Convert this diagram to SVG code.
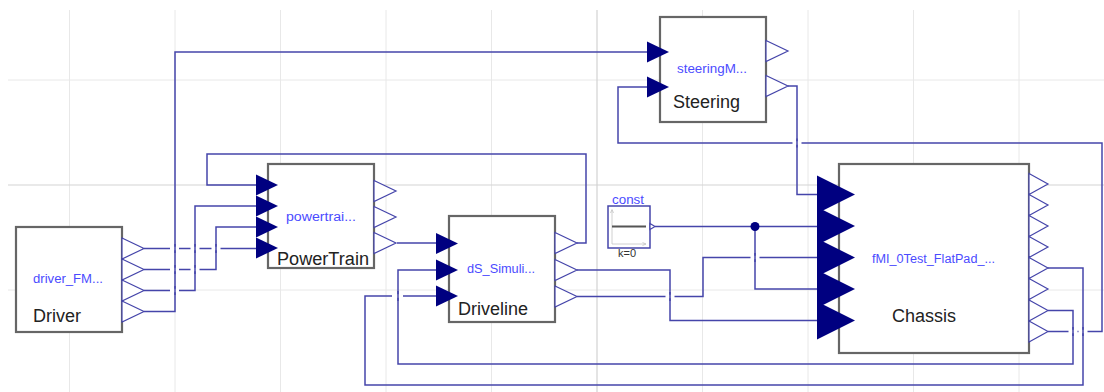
<svg xmlns="http://www.w3.org/2000/svg" xmlns:xlink="http://www.w3.org/1999/xlink" width="1104" height="392" viewBox="0 0 1104 392">
<style>
.grid{stroke:#e8e8e8;stroke-width:1;fill:none}
.axis{stroke:#d3d3d3;stroke-width:1.2;fill:none}
.box{fill:#fff;stroke:#666;stroke-width:2.2}
.conn{fill:none;stroke:#4545aa;stroke-width:1.5}
.gap{fill:none;stroke:#fff;stroke-width:3.5}
.in{fill:#000080}
.out{fill:#fff;stroke:#4545aa;stroke-width:1.2}
.name{font-family:"Liberation Sans",Arial,sans-serif;font-size:12.5px;fill:#4b4bff}
.label{font-family:"Liberation Sans",Arial,sans-serif;font-size:18px;fill:#222}
</style>
<defs>
<polygon id="tin" class="in" points="0,-10.5 22,0 0,10.5"/>
<polygon id="tout" class="out" points="0,-10.5 22,0 0,10.5"/>
<polygon id="cin" class="in" points="0,-19 38,0 0,19"/>
<polygon id="cout" class="out" points="0,-10.5 19,0 0,10.5"/>
</defs>
<rect width="1104" height="392" fill="#fff"/>
<g id="grid">
<path class="grid" d="M69.5,10V392M175,10V392M280.5,10V392M386,10V392M491.5,10V392M702.5,10V392M808,10V392M913.5,10V392M1019,10V392M8,80H1104M8,290H1104"/>
<path class="axis" d="M597,10V392M8,185H1104"/>
</g>
<g id="connectors">
<path class="conn" d="M144,248.5H256"/>
<path class="conn" d="M144,269.5H216V227H256"/>
<path class="conn" d="M144,290.5H195V206H256"/>
<path class="conn" d="M144,311.5H175V52H647"/>
<path class="conn" d="M577,243H586V154H207V185H256"/>
<path class="conn" d="M397,243H436"/>
<path class="conn" d="M577,270H670V320.5H817"/>
<path class="conn" d="M577,296.5H703V257.5H817"/>
<path class="conn" d="M655,226.5H817"/>
<path class="conn" d="M755,226.5V289H817"/>
<path class="conn" d="M788,86H797V194.5H817"/>
<path class="conn" d="M1048,331.5H1102V143H618V87H647"/>
<path class="conn" d="M1048,310.5H1073V364H398V270H436"/>
<path class="conn" d="M1048,268H1083V385H365V296H436"/>
<path class="gap" d="M170,248.5h9M190.5,248.5h9M211.5,248.5h9M170,269.5h9M190.5,269.5h9M170,290.5h9M392,296h11M665.5,296.5h9M750.5,257.5h9M792.5,143h9M1068.5,331.5h9M1078.5,331.5h9"/>
<path class="conn" d="M175,244v9M195,244v9M216,244v9M175,265v9M195,265v9M175,286v9M398,291v10M670,292v9M755,253v9M797,138.5v9M1073,327v9M1083,327v9"/>
<circle cx="755" cy="226.5" r="4.5" fill="#000080"/>
</g>
<g id="driver">
<rect class="box" x="16" y="227" width="106" height="105"/>
<use xlink:href="#tout" x="122" y="248.5"/>
<use xlink:href="#tout" x="122" y="269.5"/>
<use xlink:href="#tout" x="122" y="290.5"/>
<use xlink:href="#tout" x="122" y="311.5"/>
<text class="name" x="33" y="283" textLength="70" lengthAdjust="spacingAndGlyphs">driver_FM...</text>
<text class="label" x="33" y="322">Driver</text>
</g>
<g id="powertrain">
<rect class="box" x="268" y="164" width="106" height="104"/>
<use xlink:href="#tin" x="256" y="185"/>
<use xlink:href="#tin" x="256" y="206"/>
<use xlink:href="#tin" x="256" y="227"/>
<use xlink:href="#tin" x="256" y="248"/>
<use xlink:href="#tout" x="374" y="191"/>
<use xlink:href="#tout" x="374" y="217"/>
<use xlink:href="#tout" x="374" y="243"/>
<text class="name" x="286" y="221" textLength="70" lengthAdjust="spacingAndGlyphs">powertrai...</text>
<text class="label" x="277" y="265" textLength="92" lengthAdjust="spacingAndGlyphs">PowerTrain</text>
</g>
<g id="driveline">
<rect class="box" x="449" y="216" width="106" height="106"/>
<use xlink:href="#tin" x="436" y="243.5"/>
<use xlink:href="#tin" x="436" y="270"/>
<use xlink:href="#tin" x="436" y="296"/>
<use xlink:href="#tout" x="555" y="243"/>
<use xlink:href="#tout" x="555" y="270"/>
<use xlink:href="#tout" x="555" y="296.5"/>
<text class="name" x="467" y="273" textLength="68" lengthAdjust="spacingAndGlyphs">dS_Simuli...</text>
<text class="label" x="458" y="315">Driveline</text>
</g>
<g id="const">
<rect x="608" y="206" width="42" height="42" fill="#fff" stroke="#4545aa" stroke-width="1.5"/>
<path d="M612,244V210M610.5,213L612,209.5L613.5,213M612,244H646M642.5,242.5L646,244L642.5,245.5" fill="none" stroke="#c4c4c4" stroke-width="0.8"/>
<path d="M612,226.5H646" stroke="#555" stroke-width="2"/>
<polygon class="out" points="650,223.5 655,226.5 650,229.5"/>
<text class="name" x="612" y="204" font-size="13" textLength="32" lengthAdjust="spacingAndGlyphs">const</text>
<text x="618" y="257" font-family="Liberation Sans,Arial,sans-serif" font-size="11" fill="#333">k=0</text>
</g>
<g id="steering">
<rect class="box" x="660" y="17" width="106" height="105"/>
<use xlink:href="#tin" x="647" y="52"/>
<use xlink:href="#tin" x="647" y="87"/>
<use xlink:href="#tout" x="766" y="51"/>
<use xlink:href="#tout" x="766" y="86"/>
<text class="name" x="677" y="73" textLength="70" lengthAdjust="spacingAndGlyphs">steeringM...</text>
<text class="label" x="673" y="108">Steering</text>
</g>
<g id="chassis">
<rect class="box" x="839" y="164" width="190" height="189"/>
<use xlink:href="#cin" x="817" y="194.5"/>
<use xlink:href="#cin" x="817" y="226"/>
<use xlink:href="#cin" x="817" y="257.5"/>
<use xlink:href="#cin" x="817" y="289"/>
<use xlink:href="#cin" x="817" y="320.5"/>
<use xlink:href="#cout" x="1029" y="184"/>
<use xlink:href="#cout" x="1029" y="205"/>
<use xlink:href="#cout" x="1029" y="226"/>
<use xlink:href="#cout" x="1029" y="247"/>
<use xlink:href="#cout" x="1029" y="268"/>
<use xlink:href="#cout" x="1029" y="289"/>
<use xlink:href="#cout" x="1029" y="310.5"/>
<use xlink:href="#cout" x="1029" y="331.5"/>
<text class="name" x="872" y="263" textLength="123" lengthAdjust="spacingAndGlyphs">fMI_0Test_FlatPad_...</text>
<text class="label" x="892" y="322">Chassis</text>
</g>
</svg>
